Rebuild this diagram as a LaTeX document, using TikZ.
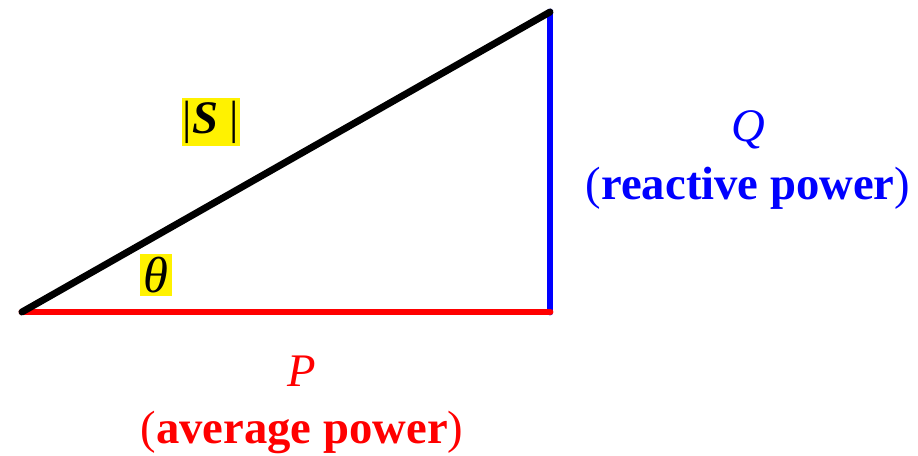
\documentclass[tikz,border=0pt]{standalone}
\usepackage{fontspec}
\setmainfont{Liberation Serif}

\tikzset{
  side/.style={line width=5.2pt,line cap=round},
  hilite/.style={fill=yellow,inner sep=1pt},
  powerlabel/.style={align=center,inner sep=0pt,font=\fontsize{35}{43}\selectfont}
}

\begin{document}
\begin{tikzpicture}[x=0.75pt,y=-0.75pt,font=\fontsize{35}{43}\selectfont]
\useasboundingbox (0,0) rectangle (918,456);
\coordinate (origin) at (22,312);
\coordinate (corner) at (550,312);
\coordinate (apex) at (550,12);
\draw[side,blue] (corner) -- (apex);
\draw[side,red] (origin) -- (corner);
\draw[side,black] (origin) -- (apex);
\node[hilite,inner ysep=2pt] (S-label) at (211,122) {|\textbf{\textit{S}} |};
\node[hilite,inner sep=2.5pt,font=\fontsize{38}{43}\selectfont] (theta-label) at (156,275) {\textit{θ}};
\node[powerlabel,text=blue] (Q-label) at (748,160) {\textit{Q}\\(\textbf{reactive power})};
\node[powerlabel,text=red] (P-label) at (302,405) {\textit{P}\\(\textbf{average power})};
\end{tikzpicture}
\end{document}
